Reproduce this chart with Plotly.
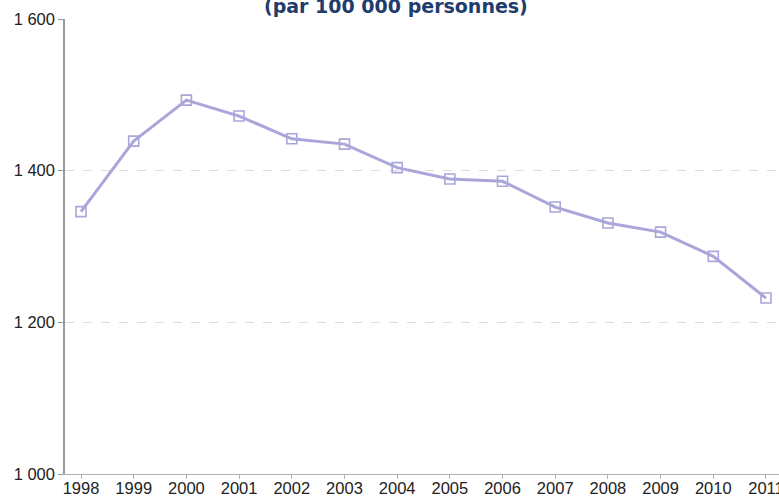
import plotly.graph_objects as go

years = [1998, 1999, 2000, 2001, 2002, 2003, 2004, 2005, 2006, 2007, 2008, 2009, 2010, 2011]
rate = [1346, 1439, 1493, 1472, 1442, 1435, 1404, 1389, 1386, 1352, 1331, 1319, 1287, 1232]
y_ticks = [1000, 1200, 1400, 1600]
title_text = "(par 100 000 personnes)"

line_color = "#aaa6d9"

fig = go.Figure()
fig.add_trace(go.Scatter(
    x=years, y=rate,
    mode="lines+markers",
    line=dict(color=line_color, width=3),
    marker=dict(symbol="square-open", size=10, color=line_color, line=dict(width=1.6, color=line_color)),
    hoverinfo="x+y",
))

fig.update_layout(
    width=779, height=497,
    margin=dict(l=65, r=0, t=19, b=23),
    plot_bgcolor="white", paper_bgcolor="white",
    showlegend=False,
    separators=", ",
    font=dict(family="Liberation Sans, Arial, sans-serif", size=15, color="#222"),
    xaxis=dict(
        range=[1997.696, 2011.247],
        tickvals=years, ticktext=[str(y) for y in years],
        showgrid=False, zeroline=False, automargin=False,
        showline=True, linecolor="#b0b0b0", linewidth=1,
        ticks="outside", ticklen=4, tickcolor="#b0b0b0",
        tickfont=dict(size=16.5, color="#222"),
        ticklabeloverflow="allow", ticklabelstandoff=-5,
    ),
    yaxis=dict(
        range=[1000, 1600],
        tickvals=y_ticks, tickformat=",d",
        showgrid=True, gridcolor="#dddddd", griddash="dash", gridwidth=1,
        zeroline=False, automargin=False,
        showline=True, linecolor="#999999", linewidth=1.5,
        ticks="outside", ticklen=5, tickcolor="#999999",
        tickfont=dict(size=16.5, color="#222"),
    ),
)

# title sits partly above the top edge, as in the source image
fig.add_annotation(
    text="<b>" + title_text + "</b>",
    xref="paper", yref="paper", x=0.463, y=1.0, yshift=0,
    xanchor="center", yanchor="bottom", showarrow=False,
    font=dict(family="DejaVu Sans, Verdana, sans-serif", size=19, color="#1f3c6e"),
)

# drop the default page margin so the figure starts at the window corner
fig.write_html(
    "out.html",
    config={"displayModeBar": False},
    post_script="document.body.style.margin='0';document.body.style.overflow='hidden';",
)
